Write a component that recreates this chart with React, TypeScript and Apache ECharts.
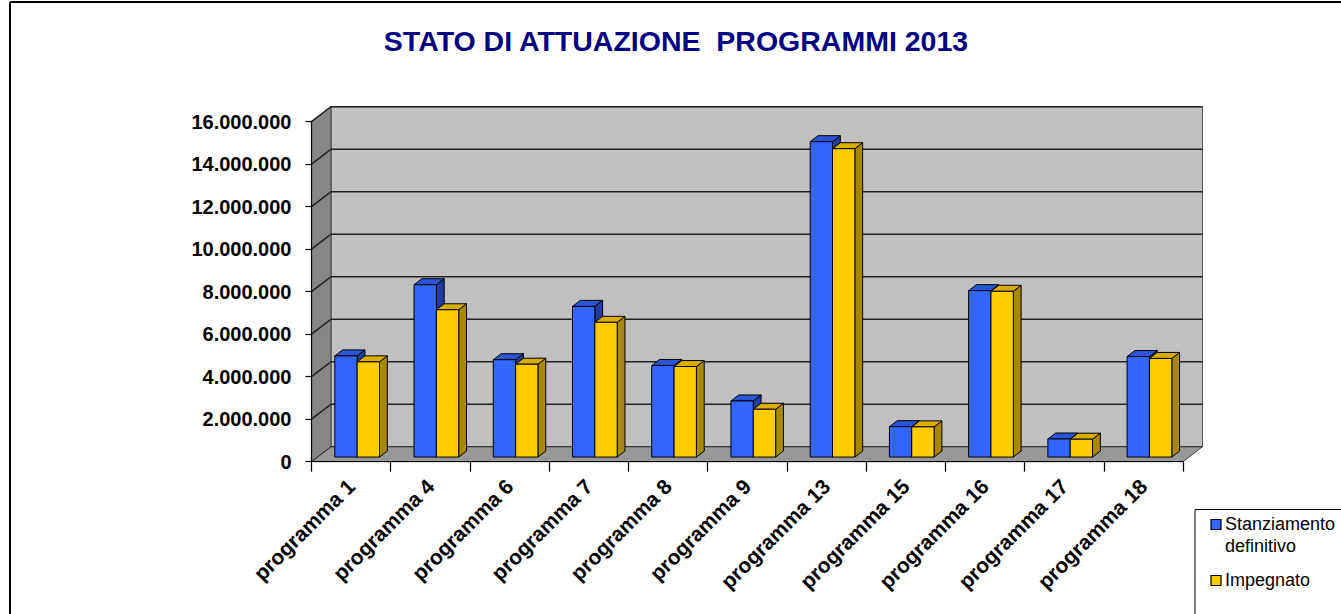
import React, { useEffect, useRef } from "react";
import * as echarts from "echarts";

// ---------- data ----------
const categories = [
  "programma 1",
  "programma 4",
  "programma 6",
  "programma 7",
  "programma 8",
  "programma 9",
  "programma 13",
  "programma 15",
  "programma 16",
  "programma 17",
  "programma 18",
];
const stanziamento = [4760000, 8110000, 4580000, 7090000, 4310000, 2640000, 14840000, 1430000, 7830000, 850000, 4730000];
const impegnato = [4480000, 6930000, 4370000, 6340000, 4260000, 2250000, 14510000, 1420000, 7800000, 840000, 4640000];
const yTicks = [0, 2000000, 4000000, 6000000, 8000000, 10000000, 12000000, 14000000, 16000000];
const seriesNames = ["Stanziamento definitivo", "Impegnato"];
const legendLabels = ["Stanziamento\ndefinitivo", "Impegnato"];
const titleText = "STATO DI ATTUAZIONE  PROGRAMMI 2013";

// ---------- style ----------
const FONT = "'Liberation Sans', Arial, sans-serif";
const DX = 19.5; // depth offset of the back wall
const DY = -15;
const PLANE = 0.31; // depth position of bars
const BAR_DEPTH = 0.4; // bar depth as fraction of total depth
const BAR_FRAC = 0.282; // bar width / category width
const BLUE = { front: "#3366FF", top: "#2A55D6", side: "#1F3D9E" };
const YELLOW = { front: "#FFCC00", top: "#D9AD00", side: "#A88800" };

const fmt = (v: number) => String(v).replace(/\B(?=(\d{3})+(?!\d))/g, ".");

function makeBarRender(colors: typeof BLUE, slot: number) {
  return (params: any, api: any) => {
    const cat = api.value(0);
    const val = api.value(1);
    const base = api.coord([cat, 0]);
    const top = api.coord([cat, val]);
    const band = api.size([1, 0])[0];
    const bw = band * BAR_FRAC;
    const px = PLANE * DX;
    const py = PLANE * DY;
    const xL = base[0] + px + (slot === 0 ? -bw : 0);
    const xR = xL + bw;
    const yB = base[1] + py;
    const yT = top[1] + py;
    const ddx = BAR_DEPTH * DX;
    const ddy = BAR_DEPTH * DY;
    const stroke = { stroke: "#000", lineWidth: 1 };
    return {
      type: "group",
      children: [
        {
          type: "polygon",
          shape: { points: [[xR, yT], [xR + ddx, yT + ddy], [xR + ddx, yB + ddy], [xR, yB]] },
          style: { fill: colors.side, ...stroke },
        },
        {
          type: "polygon",
          shape: { points: [[xL, yT], [xR, yT], [xR + ddx, yT + ddy], [xL + ddx, yT + ddy]] },
          style: { fill: colors.top, ...stroke },
        },
        {
          type: "rect",
          shape: { x: xL, y: yT, width: bw, height: yB - yT },
          style: { fill: colors.front, ...stroke },
        },
      ],
    };
  };
}

export default function App() {
  const ref = useRef<HTMLDivElement>(null);

  useEffect(() => {
    if (!ref.current) return;
    const chart = echarts.init(ref.current, undefined, { renderer: "svg" });
    const yMax = yTicks[yTicks.length - 1];

    const option: any = {
      animation: false,
      backgroundColor: "#ffffff",
      textStyle: { fontFamily: FONT },
      title: {
        text: titleText,
        left: 676,
        textAlign: "center",
        top: 26,
        padding: 0,
        textStyle: { color: "#000080", fontSize: 28.5, fontWeight: "bold", fontFamily: FONT },
      },
      grid: { left: 311.5, right: 158, top: 121.7, bottom: 152.3, containLabel: false },
      xAxis: {
        type: "category",
        data: categories,
        z: 10,
        axisLine: { show: true, lineStyle: { color: "#000", width: 1.2 } },
        axisTick: { show: true, length: 10, lineStyle: { color: "#000", width: 1.2 } },
        axisLabel: {
          interval: 0,
          rotate: 45,
          margin: 21,
          color: "#000",
          fontSize: 21,
          fontWeight: "bold",
          fontFamily: FONT,
        },
        splitLine: { show: false },
      },
      yAxis: {
        type: "value",
        min: 0,
        max: yMax,
        interval: 2000000,
        z: 10,
        axisLine: { show: true, lineStyle: { color: "#000", width: 1.2 } },
        axisTick: { show: true, length: 6, lineStyle: { color: "#000", width: 1.2 } },
        axisLabel: {
          margin: 20,
          color: "#000",
          fontSize: 20,
          fontWeight: "bold",
          fontFamily: FONT,
          formatter: (v: number) => fmt(v),
        },
        splitLine: { show: false },
      },
      series: [
        {
          type: "custom",
          name: "walls",
          silent: true,
          coordinateSystem: "cartesian2d",
          encode: { x: 0, y: 1 },
          data: [[0, 0]],
          renderItem: (params: any, api: any) => {
            const cs = params.coordSys;
            const x0 = cs.x;
            const x1 = cs.x + cs.width;
            const yTop = api.coord([0, yMax])[1];
            const yBot = api.coord([0, 0])[1];
            return {
              type: "group",
              children: [
                {
                  type: "rect",
                  shape: { x: x0 + DX, y: yTop + DY, width: x1 - x0, height: yBot - yTop },
                  style: { fill: "#C0C0C0", stroke: "#555", lineWidth: 1 },
                },
                {
                  type: "polygon",
                  shape: { points: [[x0, yTop], [x0 + DX, yTop + DY], [x0 + DX, yBot + DY], [x0, yBot]] },
                  style: { fill: "#868686", stroke: "#444", lineWidth: 1 },
                },
                {
                  type: "polygon",
                  shape: { points: [[x0, yBot], [x1, yBot], [x1 + DX, yBot + DY], [x0 + DX, yBot + DY]] },
                  style: { fill: "#989898", stroke: "#444", lineWidth: 1 },
                },
              ],
            };
          },
        },
        {
          type: "custom",
          name: "grid",
          silent: true,
          coordinateSystem: "cartesian2d",
          encode: { x: 0, y: 1 },
          data: yTicks.map((v) => [0, v]),
          renderItem: (params: any, api: any) => {
            const cs = params.coordSys;
            const x0 = cs.x;
            const x1 = cs.x + cs.width;
            const y = api.coord([0, api.value(1)])[1];
            return {
              type: "polyline",
              shape: { points: [[x0, y], [x0 + DX, y + DY], [x1 + DX, y + DY]] },
              style: { stroke: "#222", lineWidth: api.value(1) === 0 ? 0.6 : 1.5, fill: "none" },
            };
          },
        },
        {
          type: "custom",
          name: seriesNames[0],
          coordinateSystem: "cartesian2d",
          encode: { x: 0, y: 1 },
          itemStyle: { color: BLUE.front },
          data: stanziamento.map((v, i) => [i, v]),
          renderItem: makeBarRender(BLUE, 0),
        },
        {
          type: "custom",
          name: seriesNames[1],
          coordinateSystem: "cartesian2d",
          encode: { x: 0, y: 1 },
          itemStyle: { color: YELLOW.front },
          data: impegnato.map((v, i) => [i, v]),
          renderItem: makeBarRender(YELLOW, 1),
        },
      ],
      graphic: [
        // outer chart border (top and left)
        { type: "line", shape: { x1: 10, y1: 2, x2: 1341, y2: 2 }, style: { stroke: "#000", lineWidth: 2 }, z: 100 },
        { type: "line", shape: { x1: 10, y1: 2, x2: 10, y2: 614 }, style: { stroke: "#000", lineWidth: 2 }, z: 100 },
        // legend box
        {
          type: "group",
          z: 100,
          children: [
            { type: "rect", shape: { x: 1195, y: 509.5, width: 200, height: 200 }, style: { fill: "#fff", stroke: "#000", lineWidth: 1 } },
            { type: "rect", shape: { x: 1211, y: 519.5, width: 10, height: 10 }, style: { fill: BLUE.front, stroke: "#000", lineWidth: 1.2 } },
            {
              type: "text",
              x: 1225,
              y: 512.5,
              style: { text: legendLabels[0], fontSize: 18, lineHeight: 22.5, fontFamily: FONT, fill: "#000", verticalAlign: "top" },
            },
            { type: "rect", shape: { x: 1211, y: 575.5, width: 10, height: 10 }, style: { fill: YELLOW.front, stroke: "#000", lineWidth: 1.2 } },
            {
              type: "text",
              x: 1225,
              y: 568.5,
              style: { text: legendLabels[1], fontSize: 18, lineHeight: 22.5, fontFamily: FONT, fill: "#000", verticalAlign: "top" },
            },
          ],
        },
      ],
    };

    chart.setOption(option);
    return () => chart.dispose();
  }, []);

  return (
    <div
      ref={ref}
      style={{ position: "fixed", left: 0, top: 0, width: 1341, height: 614, background: "#fff" }}
    />
  );
}
